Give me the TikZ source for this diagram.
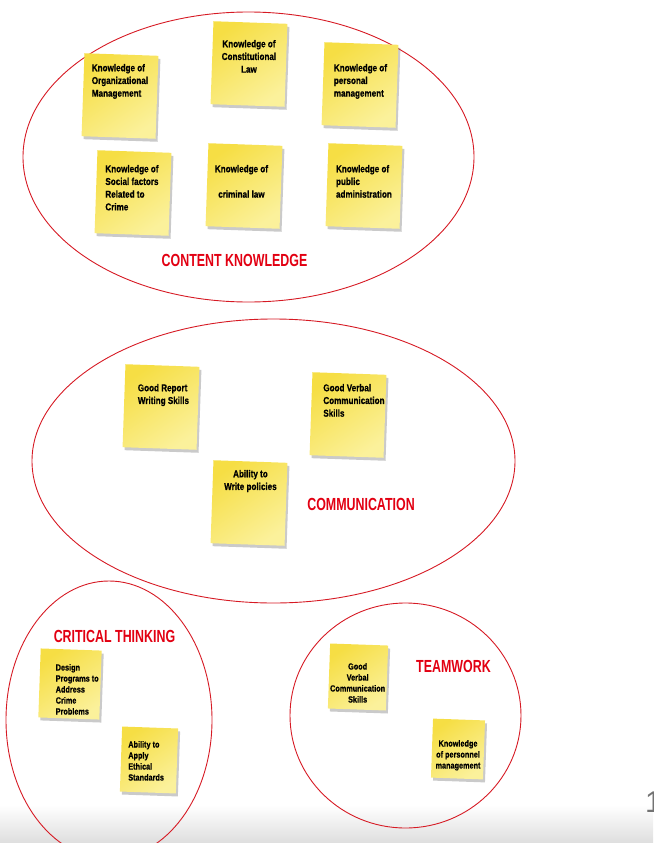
\documentclass[tikz,border=0pt]{standalone}
\usepackage{fontspec}
\setmainfont{Liberation Sans}
\newfontfamily\notefont[FakeStretch=0.81,BoldFeatures={FakeBold=0.6}]{Liberation Sans}
\newfontfamily\headfont[FakeStretch=0.71]{Liberation Sans}
\usetikzlibrary{positioning,shapes.geometric,shadows}
\definecolor{noteyellow}{RGB}{246,222,68}
\definecolor{notelight}{RGB}{251,241,155}
\definecolor{ringred}{RGB}{214,26,36}
\definecolor{headred}{RGB}{226,0,18}

\begin{document}
\begin{tikzpicture}[x=1pt,y=-1pt,
  group/.style={draw=ringred,line width=0.9pt,ellipse,inner sep=0pt},
  note/.style={rectangle,inner sep=0pt,minimum width=74pt,minimum height=83pt,rotate=-2,
    top color=noteyellow,bottom color=notelight,shading angle=35,
    drop shadow={shadow xshift=2pt,shadow yshift=-3pt,opacity=0.35,fill=black!60}},
  smallnote/.style={note,minimum width=61pt,minimum height=69pt},
  notetext/.style={inner sep=0pt,font=\fontsize{10}{12.7}\notefont\bfseries,align=left},
  smalltext/.style={notetext,font=\fontsize{9}{11}\notefont\bfseries},
  heading/.style={inner sep=0pt,text=headred,font=\fontsize{17.5}{19}\headfont\bfseries}]
\useasboundingbox (0,0) rectangle (653,843);
\fill[top color=white,bottom color=black!13] (0,805) rectangle (653,843);
\node[text=black!55,font=\fontsize{30}{30}\selectfont,anchor=west,inner sep=0pt] (pageno) at (645,802) {1};

\node[group,minimum width=451pt,minimum height=290pt] (content) at (248.5,157) {};
\node[group,minimum width=483pt,minimum height=284pt] (comm) at (273.5,461) {};
\node[group,minimum width=206pt,minimum height=278pt] (critical) at (109,720) {};
\node[group,minimum width=231pt,minimum height=225pt] (team) at (405.5,715.5) {};

\node[note] (orgmgmt) at (120,96) {};
\node[note] (constlaw) at (249,64) {};
\node[note] (persmgmt) at (360,85) {};
\node[note] (socfact) at (133,193) {};
\node[note] (crimlaw) at (244,186) {};
\node[note] (pubadmin) at (364,186) {};
\node[note] (report) at (161,407) {};
\node[note] (verbal) at (348,415) {};
\node[note] (policies) at (249,503) {};
\node[smallnote] (design) at (70,684) {};
\node[smallnote,minimum width=56pt,minimum height=65pt] (ethics) at (149,760) {};
\node[smallnote,minimum width=58pt,minimum height=65pt] (teamverbal) at (358,677) {};
\node[smallnote,minimum width=52pt,minimum height=59pt] (persnl) at (458,749) {};

\node[notetext,below=9.5pt of orgmgmt.north,xshift=-1.5pt] (orgmgmt-t) {Knowledge of\\Organizational\\Management};
\node[notetext,align=center,below=17.5pt of constlaw.north,xshift=-1.5pt] (constlaw-t) {Knowledge of\\Constitutional\\Law};
\node[notetext,below=20.5pt of persmgmt.north,xshift=-1pt] (persmgmt-t) {Knowledge of\\personal\\management};
\node[notetext,below=13.5pt of socfact.north,xshift=-2.5pt] (socfact-t) {Knowledge of\\Social factors\\Related to\\Crime};
\node[notetext,align=center,below=20.5pt of crimlaw.north,xshift=-4pt] (crimlaw-t) {Knowledge of\\[12.7pt]criminal law};
\node[notetext,below=20.5pt of pubadmin.north,xshift=-1.5pt] (pubadmin-t) {Knowledge of\\public\\administration};
\node[notetext,below=18.5pt of report.north,xshift=1pt] (report-t) {Good Report\\Writing Skills};
\node[notetext,below=10.5pt of verbal.north,xshift=4.5pt] (verbal-t) {Good Verbal\\Communication\\Skills};
\node[notetext,align=center,below=8.5pt of policies.north] (policies-t) {Ability to\\Write policies};
\node[smalltext,below=14.5pt of design.north,xshift=6pt] (design-t) {Design\\Programs to\\Address\\Crime\\Problems};
\node[smalltext,below=13.5pt of ethics.north,xshift=-4pt] (ethics-t) {Ability to\\Apply\\Ethical\\Standards};
\node[smalltext,align=center,below=18.5pt of teamverbal.north,xshift=-1.5pt] (teamverbal-t) {Good\\Verbal\\Communication\\Skills};
\node[smalltext,align=center,below=20.5pt of persnl.north,xshift=-1pt] (persnl-t) {Knowledge\\of personnel\\management};

\node[heading] (content-h) at (234.5,260) {CONTENT KNOWLEDGE};
\node[heading] (comm-h) at (361,504) {COMMUNICATION};
\node[heading] (critical-h) at (114.5,636) {CRITICAL THINKING};
\node[heading] (team-h) at (453.5,666) {TEAMWORK};
\end{tikzpicture}
\end{document}
